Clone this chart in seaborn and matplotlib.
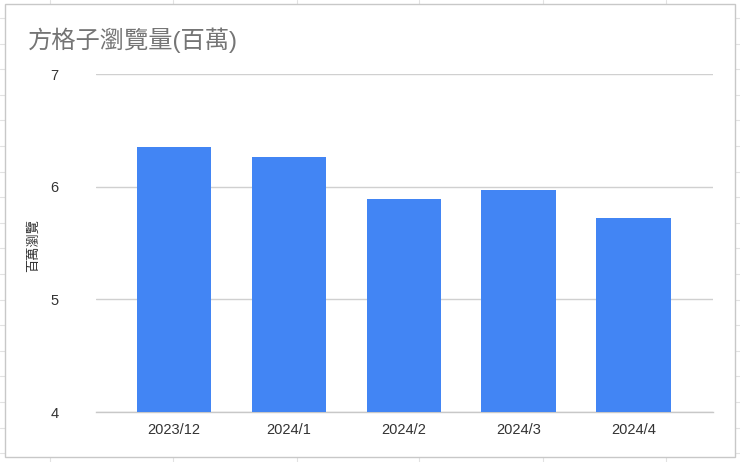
import matplotlib
matplotlib.use("Agg")
import matplotlib.pyplot as plt
import seaborn as sns
import pandas as pd
from matplotlib.lines import Line2D
from matplotlib.patches import Rectangle

categories = ["2023/12", "2024/1", "2024/2", "2024/3", "2024/4"]
views = [6.35, 6.26, 5.89, 5.97, 5.72]
yticks = [4, 5, 6, 7]
title = "方格子瀏覽量(百萬)"
ylabel = "百萬瀏覽"

sns.set_theme(style="white")
plt.rcParams['font.family'] = ['Liberation Sans', 'Noto Sans CJK TC', 'DejaVu Sans']

df = pd.DataFrame({"month": categories, "views": views})

W, H = 740, 462
fig = plt.figure(figsize=(W / 100, H / 100), dpi=100)
fig.patch.set_facecolor("white")

# spreadsheet grid behind the chart
for x in [50, 173, 297, 419, 543, 666]:
    fig.add_artist(Line2D([x / W, x / W], [0, 1], color="#e2e2e2", lw=0.8, zorder=0))
for k in range(19):
    y = 18 + 25.6 * k
    fig.add_artist(Line2D([0, 1], [1 - y / H, 1 - y / H], color="#e2e2e2", lw=0.8, zorder=0))
# chart frame
fig.add_artist(Rectangle((5 / W, 1 - 457 / H), 730 / W, 453 / H, facecolor="white",
                         edgecolor="#c8c8c8", lw=1.0, zorder=1))

ax = fig.add_axes([96 / W, 1 - 412 / H, (713 - 96) / W, (412 - 74) / H], zorder=2)
ax.set_facecolor("none")
sns.barplot(data=df, x="month", y="views", color="#4285f4", saturation=1,
            width=0.65, ax=ax, zorder=3)
for p in ax.patches:
    p.set_edgecolor("none")

ax.set_ylim(4, 7)
ax.set_xlim(-0.68, 4.69)
ax.set_yticks(yticks)
ax.yaxis.grid(True, color="#d0d0d0", lw=1.0, zorder=0)
ax.set_axisbelow(True)
for s in ["top", "right", "left"]:
    ax.spines[s].set_visible(False)
ax.spines["bottom"].set_color("#c8c8c8")
ax.spines["bottom"].set_linewidth(1.0)
ax.tick_params(axis="both", length=0, labelsize=10.5, colors="#333333")
ax.tick_params(axis="y", pad=27)
ax.tick_params(axis="x", pad=8)
ax.set_xlabel("")
ax.set_ylabel("")

fig.text(33 / W, 1 - 245 / H, ylabel, rotation=90, ha="center", va="center",
         fontsize=9.5, color="#333333", family=['Noto Sans CJK TC', 'DejaVu Sans'], zorder=3)
fig.text(28 / W, 1 - 40 / H, title, ha="left", va="center", fontsize=17.5,
         color="#757575", family=['Liberation Sans', 'Noto Sans CJK TC'], zorder=3)

fig.savefig("out.png", dpi=100, facecolor="white")
